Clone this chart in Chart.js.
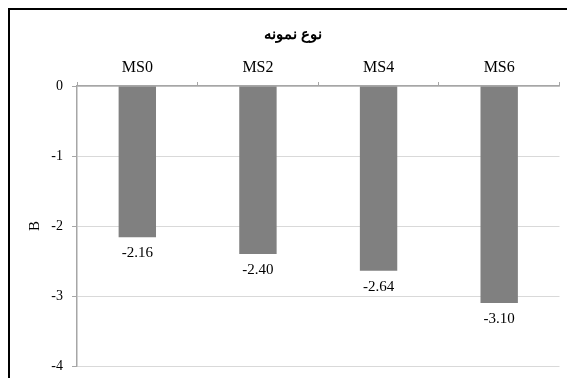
<!DOCTYPE html>
<html>
<head>
<meta charset="utf-8">
<script src="https://cdn.jsdelivr.net/npm/chart.js@4"></script>
<style>
  body { margin: 0; background: #fff; }
  #wrap { width: 567px; height: 378px; }
</style>
</head>
<body>
<div id="wrap"><canvas id="chart" width="567" height="378"></canvas></div>
<script>
// data
const categories = ["MS0", "MS2", "MS4", "MS6"];
const values = [-2.16, -2.40, -2.64, -3.10];
const chartTitle = "نوع نمونه";
const yTitle = "B";

const serif = "'Times New Roman', 'Liberation Serif', 'DejaVu Serif', serif";

// outer frame of the figure (only top and left edges show)
const framePlugin = {
  id: "frame",
  beforeDraw(chart) {
    const ctx = chart.ctx;
    ctx.save();
    ctx.fillStyle = "#fff";
    ctx.fillRect(0, 0, chart.width, chart.height);
    ctx.strokeStyle = "#000";
    ctx.lineWidth = 2;
    ctx.strokeRect(9, 9, 800, 800);
    ctx.restore();
  }
};

// value labels under each bar
const valueLabels = {
  id: "valueLabels",
  afterDatasetsDraw(chart) {
    const ctx = chart.ctx;
    const meta = chart.getDatasetMeta(0);
    ctx.save();
    ctx.font = "15px " + serif;
    ctx.fillStyle = "#000";
    ctx.textAlign = "center";
    ctx.textBaseline = "middle";
    meta.data.forEach((bar, i) => {
      ctx.fillText(values[i].toFixed(2), bar.x, bar.y + 16);
    });
    ctx.restore();
  }
};

new Chart(document.getElementById("chart"), {
  type: "bar",
  data: {
    labels: categories,
    datasets: [{
      data: values,
      backgroundColor: "#808080",
      barPercentage: 0.31,
      categoryPercentage: 1
    }]
  },
  options: {
    responsive: false,
    animation: false,
    layout: { padding: { left: 26, right: 7.5, top: 0, bottom: 12 } },
    plugins: {
      legend: { display: false },
      tooltip: { enabled: false },
      title: {
        display: true,
        text: chartTitle,
        color: "#000",
        font: { size: 15, weight: "bold", family: serif },
        padding: { top: 26, bottom: 0 }
      }
    },
    scales: {
      x: {
        position: "top",
        grid: { drawOnChartArea: false, drawTicks: true, tickLength: 4, color: "#a6a6a6" },
        border: { color: "#a6a6a6", width: 1.5 },
        ticks: { color: "#000", font: { size: 16, family: serif }, padding: 5 },
        afterFit(scale) { scale.height = 42; }
      },
      y: {
        min: -4,
        max: 0,
        ticks: { stepSize: 1, color: "#000", font: { size: 14, family: serif }, padding: 9 },
        grid: { color: "#d9d9d9", tickColor: "#a6a6a6", tickLength: 5 },
        border: { color: "#a6a6a6", width: 1.5 },
        title: {
          display: true,
          text: yTitle,
          color: "#000",
          font: { size: 15, family: serif },
          padding: { top: 0, bottom: 0 }
        },
        afterFit(scale) {
          scale.width = 51;
          scale.paddingTop = 0;
          scale.paddingBottom = 0;
        }
      }
    }
  },
  plugins: [framePlugin, valueLabels]
});
</script>
</body>
</html>
